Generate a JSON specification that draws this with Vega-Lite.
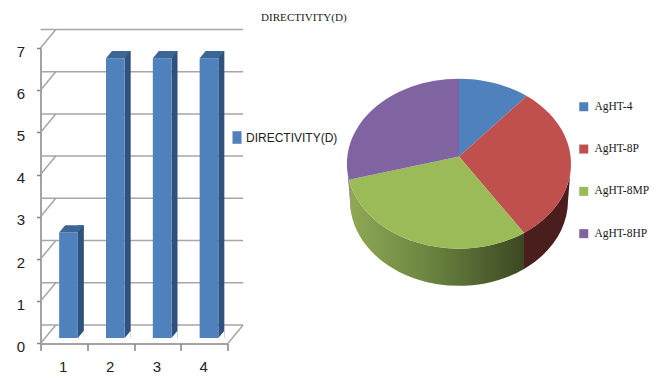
{
  "$schema": "https://vega.github.io/schema/vega-lite/v6.json",
  "background": "white",
  "padding": {"left": 15.5, "top": 12, "right": 0, "bottom": 0},
  "bounds": "flush",
  "spacing": 110.5,
  "resolve": {"scale": {"color": "independent", "x": "independent", "y": "independent"}, "legend": {"color": "independent"}},
  "config": {"view": {"stroke": null}},
  "datasets": {
    "bars": [
      {"pos": "1", "series": "DIRECTIVITY(D)", "value": 2.5},
      {"pos": "2", "series": "DIRECTIVITY(D)", "value": 6.63},
      {"pos": "3", "series": "DIRECTIVITY(D)", "value": 6.63},
      {"pos": "4", "series": "DIRECTIVITY(D)", "value": 6.63}
    ],
    "ticks": [{"tick": 0}, {"tick": 1}, {"tick": 2}, {"tick": 3}, {"tick": 4}, {"tick": 5}, {"tick": 6}, {"tick": 7}],
    "slices": [
      {"group": "AgHT-4", "value": 2.5},
      {"group": "AgHT-8P", "value": 6.63},
      {"group": "AgHT-8MP", "value": 6.63},
      {"group": "AgHT-8HP", "value": 6.63}
    ]
  },
  "hconcat": [
    {
      "width": 187.3,
      "height": 295.4,
      "title": {"text": "DIRECTIVITY(D)", "font": "Liberation Serif", "fontSize": 11.1, "fontWeight": "normal", "color": "#1a1a1a", "anchor": "start", "frame": "group", "dx": 220.5, "offset": 3},
      "layer": [
        {
          "data": {"name": "ticks"},
          "mark": {"type": "rule", "color": "#a6a6a6", "strokeWidth": 1.5, "xOffset": 15.3, "x2Offset": 15.3, "yOffset": -18.5},
          "encoding": {
            "y": {"field": "tick", "type": "quantitative", "scale": {"domain": [0, 7], "nice": false},
              "axis": {"values": [0, 1, 2, 3, 4, 5, 6, 7], "title": null, "grid": false, "tickSize": 4, "tickColor": "#868686", "tickWidth": 1.5, "domainColor": "#868686", "domainWidth": 1.5, "labelFont": "Liberation Sans", "labelFontSize": 15, "labelColor": "#222222", "labelPadding": 12, "labelOffset": 3}}
          }
        },
        {
          "data": {"name": "ticks"},
          "mark": {"type": "point", "shape": "M0,0L15.3,-18.5", "filled": false, "size": 4, "opacity": 1, "color": "#a6a6a6", "strokeWidth": 1.5},
          "encoding": {
            "x": {"datum": "1", "type": "nominal", "bandPosition": 0},
            "y": {"field": "tick", "type": "quantitative"}
          }
        },
        {
          "data": {"name": "ticks"},
          "transform": [{"filter": "datum.tick === 0"}],
          "mark": {"type": "point", "shape": "M0,0L15.3,-18.5", "filled": false, "size": 4, "opacity": 1, "color": "#a6a6a6", "strokeWidth": 1.5},
          "encoding": {
            "x": {"datum": "4", "type": "nominal", "bandPosition": 1},
            "y": {"field": "tick", "type": "quantitative"}
          }
        },
        {
          "data": {"name": "bars"},
          "mark": {"type": "bar", "width": 6, "color": "#2f527c", "xOffset": 16.95, "yOffset": -12.7, "y2Offset": -5.4},
          "encoding": {
            "x": {"field": "pos", "type": "nominal", "sort": null, "scale": {"domain": ["1", "2", "3", "4"], "paddingInner": 0, "paddingOuter": 0},
              "axis": {"title": null, "labelAngle": 0, "tickBand": "extent", "tickSize": 7, "tickColor": "#868686", "tickWidth": 1.5, "domainColor": "#868686", "domainWidth": 1.5, "labelFont": "Liberation Sans", "labelFontSize": 15, "labelColor": "#222222", "labelPadding": 16, "labelOffset": 3}},
            "y": {"field": "value", "type": "quantitative", "stack": null},
            "y2": {"datum": 0}
          }
        },
        {
          "data": {"name": "bars"},
          "mark": {"type": "bar", "width": 18.7, "xOffset": 4.6, "yOffset": -5.4, "y2Offset": -5.4},
          "encoding": {
            "x": {"field": "pos", "type": "nominal", "sort": null},
            "y": {"field": "value", "type": "quantitative", "stack": null},
            "y2": {"datum": 0},
            "color": {"field": "series", "type": "nominal",
              "scale": {"domain": ["DIRECTIVITY(D)"], "range": ["#4f81bd"]},
              "legend": {"title": null, "orient": "none", "legendX": 190.5, "legendY": 83.5, "symbolType": "M-1,-1.4H1V1.4H-1Z", "symbolSize": 81, "labelFont": "Liberation Sans", "labelFontSize": 12, "labelColor": "#222222", "labelOffset": 3, "padding": 0}}
          }
        },
        {
          "data": {"name": "bars"},
          "mark": {"type": "point", "shape": "M-9.35,0L-3.35,-7.3L15.35,-7.3L9.35,0Z", "filled": true, "size": 4, "opacity": 1, "color": "#3c6696", "xOffset": 4.6, "yOffset": -5.4},
          "encoding": {
            "x": {"field": "pos", "type": "nominal", "sort": null},
            "y": {"field": "value", "type": "quantitative"}
          }
        },
        {
          "data": {"name": "bars"},
          "mark": {"type": "point", "shape": "M9.35,0L15.35,0L15.35,-7.3Z", "filled": true, "size": 4, "opacity": 1, "color": "white", "xOffset": 4.6, "yOffset": -5.4},
          "encoding": {
            "x": {"field": "pos", "type": "nominal", "sort": null},
            "y": {"datum": 0, "type": "quantitative"}
          }
        }
      ]
    },
    {
      "width": 240,
      "height": 216.8,
      "data": {"name": "slices"},
      "layer": [
        {
          "transform": [{"filter": "datum.group === 'AgHT-8P'"}],
          "mark": {"type": "point", "filled": true, "opacity": 1, "size": 4, "color": "#4a1e1c",
            "shape": "M112,7.3A112,85 0 0 1 65,76.5L65,112.6A109,85 0 0 0 109,44.7Z"}
        },
        {
          "transform": [{"filter": "datum.group === 'AgHT-8MP'"}],
          "mark": {"type": "point", "filled": true, "opacity": 1, "size": 4,
            "color": {"gradient": "linear", "x1": 0, "y1": 0, "x2": 1, "y2": 0, "stops": [
              {"offset": 0, "color": "#8fa956"},
              {"offset": 0.45, "color": "#6c8540"},
              {"offset": 1, "color": "#3c4822"}
            ]},
            "shape": "M65,76.5A112,85 0 0 1 -110,23.3L-108,56.2A109,85 0 0 0 65,112.6Z"}
        },
        {
          "transform": [{"filter": "datum.group === 'AgHT-8HP'"}],
          "mark": {"type": "point", "filled": true, "opacity": 1, "size": 4, "color": "#5b4478",
            "shape": "M-110,23.3A112,85 0 0 1 -112,7.3L-109,44.7A109,85 0 0 0 -108,56.2Z"}
        },
        {
          "mark": {"type": "point", "filled": true, "opacity": 1, "size": 4},
          "encoding": {
            "color": {"field": "group", "type": "nominal",
              "scale": {"domain": ["AgHT-4", "AgHT-8P", "AgHT-8MP", "AgHT-8HP"], "range": ["#4f81bd", "#c0504d", "#9bbb59", "#8064a2"]},
              "legend": {"title": null, "orient": "none", "legendX": 239, "legendY": 53, "symbolType": "square", "symbolSize": 81, "rowPadding": 29.3, "labelFont": "Liberation Serif", "labelFontSize": 11.5, "labelColor": "#1a1a1a", "labelOffset": 5, "padding": 0}},
            "shape": {"field": "group", "type": "nominal", "legend": null,
              "scale": {"domain": ["AgHT-4", "AgHT-8P", "AgHT-8MP", "AgHT-8HP"], "range": [
                "M0,0L0,-77.7A112,85 0 0 1 67.7,-60.4Z",
                "M0,0L67.7,-60.4A112,85 0 0 1 65,76.5Z",
                "M0,0L65,76.5A112,85 0 0 1 -110,23.3Z",
                "M0,0L-110,23.3A112,85 0 0 1 0,-77.7Z"
              ]}},
            "tooltip": {"field": "value", "type": "quantitative"}
          }
        }
      ]
    }
  ]
}
